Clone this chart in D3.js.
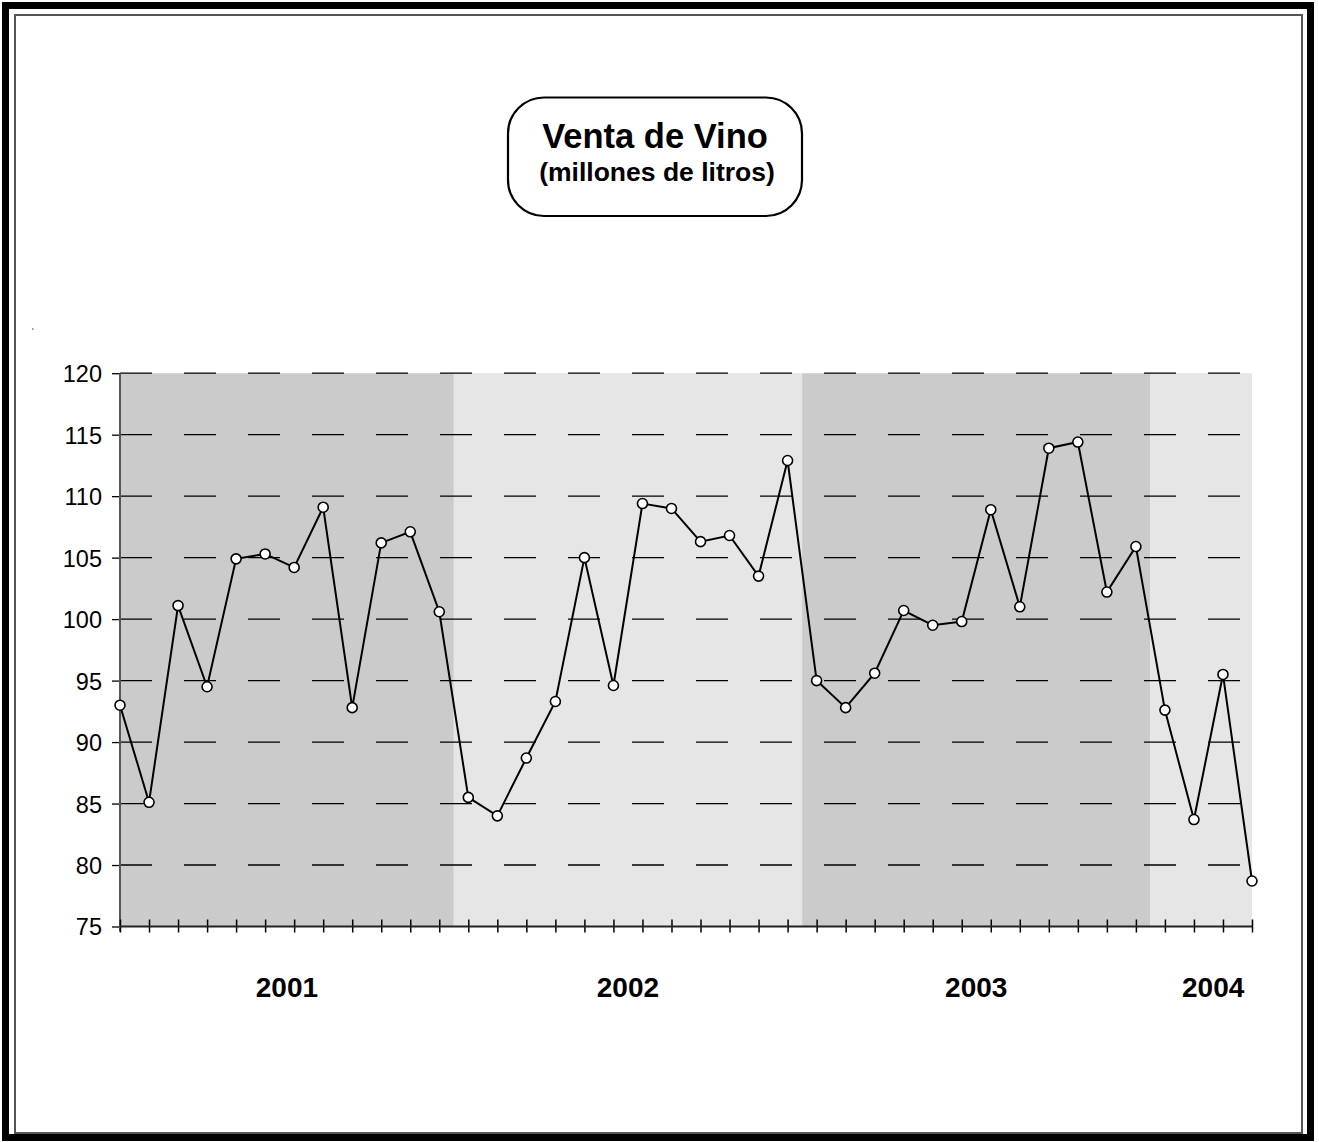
<!DOCTYPE html>
<html>
<head>
<meta charset="utf-8">
<script src="https://cdn.jsdelivr.net/npm/d3@7"></script>
<style>
  html, body { margin: 0; padding: 0; background: #ffffff; }
  svg { display: block; font-family: "Liberation Sans", Arial, sans-serif; }
</style>
</head>
<body>
<svg id="chart" width="1319" height="1142"></svg>
<script>
// Monthly wine sales, millions of litres (Jan 2001 – Apr 2004)
const years = ["2001", "2002", "2003", "2004"];
const monthsPerYear = [12, 12, 12, 4];
const sales = [
  93.0, 85.1, 101.1, 94.5, 104.9, 105.3, 104.2, 109.1, 92.8, 106.2, 107.1, 100.6,
  85.5, 84.0, 88.7, 93.3, 105.0, 94.6, 109.4, 109.0, 106.3, 106.8, 103.5, 112.9,
  95.0, 92.8, 95.6, 100.7, 99.5, 99.8, 108.9, 101.0, 113.9, 114.4, 102.2, 105.9,
  92.6, 83.7, 95.5, 78.7
];
const yTicks = [75, 80, 85, 90, 95, 100, 105, 110, 115, 120];
const titleText = "Venta de Vino";
const subtitleText = "(millones de litros)";
const bandColors = ["#cbcbcb", "#e6e6e6"];

const svg = d3.select("#chart");

// Page frame: thick black outer border and thin grey inner border
svg.append("rect").attr("x", 5.5).attr("y", 5.5).attr("width", 1305).attr("height", 1132)
  .attr("fill", "#fff").attr("stroke", "#000").attr("stroke-width", 7);
svg.append("rect").attr("x", 15).attr("y", 15).attr("width", 1287).attr("height", 1118)
  .attr("fill", "none").attr("stroke", "#555").attr("stroke-width", 2);

// Title box
const tb = svg.append("g");
tb.append("rect").attr("x", 508).attr("y", 97.5).attr("width", 294).attr("height", 118.5)
  .attr("rx", 36).attr("ry", 36)
  .attr("fill", "#fff").attr("stroke", "#000").attr("stroke-width", 2.2);
tb.append("text").attr("x", 655).attr("y", 148).attr("text-anchor", "middle")
  .attr("font-size", 34.5).attr("font-weight", "bold").text(titleText);
tb.append("text").attr("x", 657).attr("y", 181).attr("text-anchor", "middle")
  .attr("font-size", 26.5).attr("font-weight", "bold").text(subtitleText);

// stray mark left of the plot
svg.append("rect").attr("x", 32).attr("y", 328.5).attr("width", 1.5).attr("height", 1).attr("fill", "#333");

// Scales
const plotL = 120, plotR = 1252, plotT = 373.2, plotB = 926.5;
const x = d3.scaleLinear().domain([0, sales.length - 1]).range([plotL, plotR]);
const y = d3.scaleLinear().domain([75, 120]).range([plotB, plotT]);

// Year bands, clipped to the plot area
let start = 0;
const bands = years.map((yr, i) => {
  const n = monthsPerYear[i];
  const i0 = start, i1 = start + n - 1;
  start += n;
  const x0 = Math.max(plotL, x(i0 - 0.5));
  const x1 = Math.min(plotR, x(i1 + 0.5));
  return { year: yr, idx: i, x0, x1, full: n === 12 };
});
svg.append("g").selectAll("rect").data(bands).join("rect")
  .attr("x", d => d.x0)
  .attr("y", plotT)
  .attr("width", d => d.x1 - d.x0)
  .attr("height", plotB - plotT)
  .attr("fill", d => bandColors[d.idx % 2]);

// Dashed horizontal gridlines
svg.append("g").selectAll("line").data(yTicks.filter(v => v > 75)).join("line")
  .attr("x1", plotL).attr("x2", plotR)
  .attr("y1", d => y(d)).attr("y2", d => y(d))
  .attr("stroke", "#000").attr("stroke-width", 1.3)
  .attr("stroke-dasharray", "32,32");

// Y axis
const yAxis = svg.append("g").attr("transform", `translate(${plotL},0)`)
  .call(d3.axisLeft(y).tickValues(yTicks).tickSize(8).tickPadding(10).tickFormat(d3.format("d")));
yAxis.select(".domain").remove();
yAxis.selectAll(".tick line").attr("stroke", "#000").attr("stroke-width", 1.3);
yAxis.selectAll(".tick text").attr("font-size", 23.5).attr("fill", "#000")
  .attr("font-family", "'Liberation Sans', Arial, sans-serif").attr("dy", "0.36em");
svg.append("line").attr("x1", plotL).attr("x2", plotL).attr("y1", plotT).attr("y2", plotB + 5)
  .attr("stroke", "#555").attr("stroke-width", 2);

// X axis: month ticks crossing the baseline
const xAxis = svg.append("g").attr("transform", `translate(0,${plotB})`)
  .call(d3.axisBottom(x).tickValues(d3.range(sales.length)).tickSize(6).tickFormat(""));
xAxis.select(".domain").remove();
xAxis.selectAll(".tick line").attr("y1", -7).attr("y2", 6).attr("stroke", "#000").attr("stroke-width", 1.5);
svg.append("line").attr("x1", plotL).attr("x2", plotR).attr("y1", plotB).attr("y2", plotB)
  .attr("stroke", "#222").attr("stroke-width", 2);

// Year labels centred under each band (partial year nudged toward its end)
svg.append("g").selectAll("text").data(bands).join("text")
  .attr("x", d => d.full ? (d.x0 + d.x1) / 2 : (d.x0 + d.x1) / 2 + 12)
  .attr("y", 997)
  .attr("text-anchor", "middle").attr("font-size", 28).attr("font-weight", "bold")
  .text(d => d.year);

// Sales line and markers
svg.append("path").datum(sales)
  .attr("d", d3.line().x((d, i) => x(i)).y(d => y(d)))
  .attr("fill", "none").attr("stroke", "#000").attr("stroke-width", 2);
svg.append("g").selectAll("circle").data(sales).join("circle")
  .attr("cx", (d, i) => x(i)).attr("cy", d => y(d)).attr("r", 5)
  .attr("fill", "#fff").attr("stroke", "#000").attr("stroke-width", 1.6);
</script>
</body>
</html>
